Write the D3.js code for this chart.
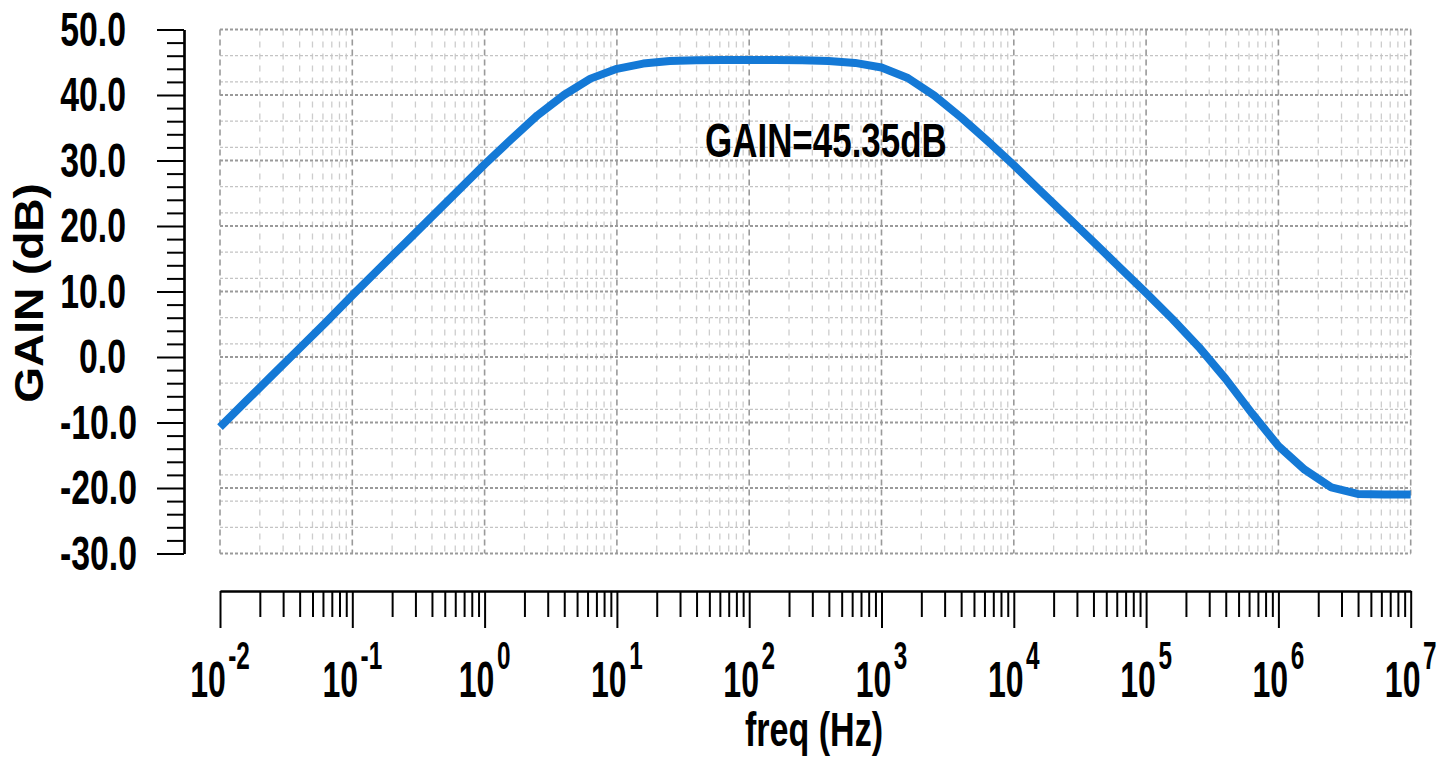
<!DOCTYPE html>
<html>
<head>
<meta charset="utf-8">
<script src="https://cdn.jsdelivr.net/npm/d3@7"></script>
<style>
  body { margin: 0; background: #fff; }
  svg { display: block; }
  text { font-family: 'Liberation Sans', Arial, sans-serif; font-weight: bold; fill: #000; }
</style>
</head>
<body>
<svg id="chart"></svg>
<script>
// frequency points (Hz), 5 per decade, and the gain (dB)
const freq = [
  0.01, 0.0158, 0.0251, 0.0398, 0.0631,
  0.1, 0.158, 0.251, 0.398, 0.631,
  1, 1.58, 2.51, 3.98, 6.31,
  10, 15.8, 25.1, 39.8, 63.1,
  100, 158, 251, 398, 631,
  1e3, 1.58e3, 2.51e3, 3.98e3, 6.31e3,
  1e4, 1.58e4, 2.51e4, 3.98e4, 6.31e4,
  1e5, 1.58e5, 2.51e5, 3.98e5, 6.31e5,
  1e6, 1.58e6, 2.51e6, 3.98e6, 6.31e6,
  1e7
];
const gain = [
  -10.7, -6.7, -2.7, 1.3, 5.3,
  9.4, 13.4, 17.4, 21.4, 25.4,
  29.4, 33.2, 36.9, 40.0, 42.5,
  44.0, 44.8, 45.2, 45.3, 45.35,
  45.35, 45.35, 45.3, 45.2, 44.9,
  44.2, 42.6, 39.9, 36.6, 33.0,
  29.3, 25.4, 21.5, 17.6, 13.7,
  9.8, 5.8, 1.5, -3.3, -8.6,
  -13.6, -17.2, -19.9, -20.9, -21.0,
  -21.0
];

const yMajor = [50, 40, 30, 20, 10, 0, -10, -20, -30];
const yGridMinor = [46, 42, 36, 32, 26, 22, 16, 12, 6, 2, -4, -8, -14, -18, -22, -26];
const xExp = [-2, -1, 0, 1, 2, 3, 4, 5, 6, 7];
const noteText = 'GAIN=45.35dB';
const xTitle = 'freq (Hz)';
const yTitle = 'GAIN (dB)';

const width = 1454;
const height = 761;
const pLeft = 220, pRight = 1410.7, pTop = 29.5, pBottom = 553.5;

const svg = d3.select('#chart').attr('width', width).attr('height', height);

const x = d3.scaleLog().domain([1e-2, 1e7]).range([pLeft, pRight]);
const y = d3.scaleLinear().domain([-30, 50]).range([pBottom, pTop]);

const xMajorVals = xExp.map((e) => Math.pow(10, e));
const xMinor = [];
xExp.slice(0, -1).forEach((e) => {
  for (let k = 2; k < 10; k++) xMinor.push(k * Math.pow(10, e));
});
const yMinor = d3.range(-28, 50, 2).filter((v) => v % 10 !== 0);

// grid
const grid = svg.append('g');
grid.selectAll('.vmin').data(xMinor).join('line')
  .attr('x1', (d) => x(d)).attr('x2', (d) => x(d))
  .attr('y1', pTop).attr('y2', pBottom)
  .attr('stroke', '#cdcdcd').attr('stroke-width', 1.3)
  .attr('stroke-dasharray', '6,6');
grid.selectAll('.hmin').data(yGridMinor).join('line')
  .attr('x1', pLeft).attr('x2', pRight)
  .attr('y1', (d) => y(d)).attr('y2', (d) => y(d))
  .attr('stroke', '#c4c4c4').attr('stroke-width', 1.3)
  .attr('stroke-dasharray', '3,2');
grid.selectAll('.vmaj').data(xMajorVals).join('line')
  .attr('x1', (d) => x(d)).attr('x2', (d) => x(d))
  .attr('y1', pTop).attr('y2', pBottom)
  .attr('stroke', '#9a9a9a').attr('stroke-width', 1.6)
  .attr('stroke-dasharray', '6,4');
grid.selectAll('.hmaj').data(yMajor).join('line')
  .attr('x1', pLeft).attr('x2', pRight)
  .attr('y1', (d) => y(d)).attr('y2', (d) => y(d))
  .attr('stroke', '#9a9a9a').attr('stroke-width', 1.8)
  .attr('stroke-dasharray', '3,2');

// axes
const styleAxis = (g) => {
  g.selectAll('.domain').attr('stroke', '#000').attr('stroke-width', 2.2);
  g.selectAll('.tick line').attr('stroke', '#000').attr('stroke-width', 2);
  g.selectAll('.tick text').remove();
};
const xAxisY = 591;
svg.append('g').attr('transform', `translate(0,${xAxisY})`)
  .call(d3.axisBottom(x).tickValues(xMinor).tickSize(26).tickSizeOuter(0).tickFormat(''))
  .call(styleAxis);
svg.append('g').attr('transform', `translate(0,${xAxisY})`)
  .call(d3.axisBottom(x).tickValues(xMajorVals).tickSize(37).tickSizeOuter(0).tickFormat(''))
  .call(styleAxis);

const yAxisX = 184;
svg.append('g').attr('transform', `translate(${yAxisX},0)`)
  .call(d3.axisLeft(y).tickValues(yMinor).tickSize(17).tickSizeOuter(0).tickFormat(''))
  .call(styleAxis);
svg.append('g').attr('transform', `translate(${yAxisX},0)`)
  .call(d3.axisLeft(y).tickValues(yMajor).tickSize(27).tickSizeOuter(0).tickFormat(''))
  .call(styleAxis);

// y tick labels
svg.append('g').selectAll('text').data(yMajor).join('text')
  .attr('transform', (d) => `translate(${d < 0 ? 137 : 126},${y(d) + 16}) scale(0.69,1)`)
  .attr('text-anchor', 'end')
  .style('font-size', '49px')
  .text((d) => d.toFixed(1));

// x tick labels 10^n
const xl = svg.append('g').selectAll('text').data(xExp).join('text')
  .attr('transform', (d) => `translate(${x(Math.pow(10, d))},697) scale(0.64,1)`)
  .attr('text-anchor', 'middle')
  .style('font-size', '50px');
xl.append('tspan').text('10');
xl.append('tspan').attr('dx', 4).attr('dy', -28).style('font-size', '38px').text((d) => d);

// titles
svg.append('text')
  .attr('transform', 'translate(814,746) scale(0.71,1)')
  .attr('text-anchor', 'middle')
  .style('font-size', '48px')
  .text(xTitle);
svg.append('text')
  .attr('transform', 'translate(43,293) rotate(-90) scale(1.15,1)')
  .attr('text-anchor', 'middle')
  .style('font-size', '40px')
  .text(yTitle);

// curve
const pts = freq.map((f, i) => ({ f: f, g: gain[i] }));
const line = d3.line().x((d) => x(d.f)).y((d) => y(d.g));
svg.append('path')
  .datum(pts)
  .attr('d', line)
  .attr('fill', 'none')
  .attr('stroke', '#1479d6')
  .attr('stroke-width', 8)
  .attr('stroke-linejoin', 'round');

// annotation
svg.append('text')
  .attr('transform', 'translate(705,157) scale(0.736,1)')
  .style('font-size', '47.5px')
  .text(noteText);
</script>
</body>
</html>
